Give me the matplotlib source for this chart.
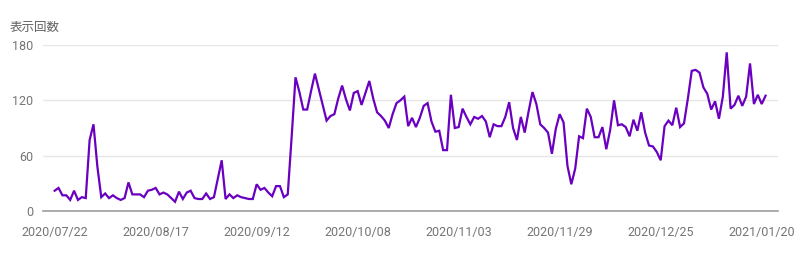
import matplotlib
matplotlib.use("Agg")
import matplotlib.pyplot as plt
import numpy as np
import pandas as pd

plt.rcParams['font.family'] = ['Roboto', 'Noto Sans CJK JP', 'DejaVu Sans']

start_date = "2020-07-22"
impressions = [
    22, 25, 17, 17, 12, 22, 12, 15, 14, 77,
    94, 48, 15, 19, 14, 17, 14, 12, 14, 31,
    18, 18, 18, 15, 22, 23, 25, 18, 20, 18,
    14, 10, 21, 13, 20, 22, 14, 13, 13, 19,
    13, 15, 35, 55, 13, 18, 14, 17, 15, 14,
    13, 13, 29, 23, 25, 20, 16, 27, 27, 15,
    18, 80, 145, 129, 110, 110, 130, 149, 132, 115,
    98, 103, 105, 122, 136, 121, 109, 128, 130, 115,
    128, 141, 122, 107, 103, 98, 90, 105, 117, 120,
    124, 92, 101, 91, 101, 114, 117, 97, 86, 87,
    66, 66, 126, 90, 91, 111, 102, 94, 102, 100,
    103, 97, 80, 94, 92, 92, 102, 118, 90, 77,
    102, 85, 108, 129, 116, 94, 90, 85, 62, 89,
    105, 96, 49, 29, 46, 81, 79, 111, 102, 80,
    80, 91, 67, 88, 120, 93, 94, 91, 81, 99,
    87, 107, 85, 71, 70, 64, 55, 92, 98, 93,
    112, 91, 95, 122, 152, 153, 150, 134, 127, 110,
    119, 100, 124, 172, 111, 115, 125, 114, 124, 160,
    116, 126, 116, 125,
]
y_ticks = [0, 60, 120, 180]
x_tick_labels = ["2020/07/22", "2020/08/17", "2020/09/12", "2020/10/08",
                 "2020/11/03", "2020/11/29", "2020/12/25", "2021/01/20"]
y_title = "表示回数"

dates = pd.date_range(start_date, periods=len(impressions), freq="D")
label_dates = pd.to_datetime(x_tick_labels, format="%Y/%m/%d")

fig = plt.figure(figsize=(8.05, 2.6), dpi=100)
ax = fig.add_axes([43/805, 1 - 211/260, (778 - 43)/805, (211 - 45)/260])

ax.plot(dates, impressions, color="#6a00c0", lw=1.6, solid_joinstyle="miter")

ax.set_ylim(0, 180)
ax.set_xlim(dates[0] - pd.Timedelta(days=3.0), dates[0] + pd.Timedelta(days=186.2))
ax.set_yticks(y_ticks)
ax.set_yticklabels([str(v) for v in y_ticks])
ax.set_xticks(label_dates)
ax.set_xticklabels(x_tick_labels)

ax.grid(axis="y", color="#e6e6e6", lw=1)
ax.set_axisbelow(True)
for s in ["top", "right", "left"]:
    ax.spines[s].set_visible(False)
ax.spines["bottom"].set_color("#9e9e9e")
ax.spines["bottom"].set_linewidth(1.2)

ax.tick_params(axis="both", length=0, labelsize=9, colors="#757575")
ax.tick_params(axis="y", pad=7)
ax.tick_params(axis="x", pad=11)

fig.text(10/805, 1 - 27/260, y_title, fontsize=9, color="#616161", va="center", ha="left",
         family=['Noto Sans CJK JP', 'DejaVu Sans'])

fig.savefig("out.png", dpi=100)
